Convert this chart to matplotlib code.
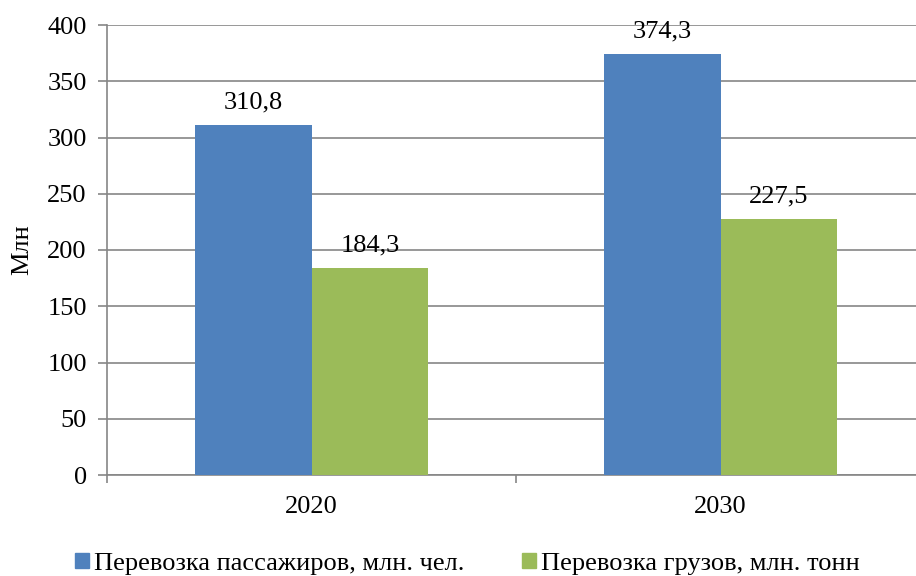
import matplotlib
matplotlib.use("Agg")
import matplotlib.pyplot as plt
import numpy as np
from matplotlib.patches import Patch

years = ["2020", "2030"]
passengers = [310.8, 374.3]
cargo = [184.3, 227.5]
series_names = ["Перевозка пассажиров, млн. чел.", "Перевозка грузов, млн. тонн"]
y_ticks = [0, 50, 100, 150, 200, 250, 300, 350, 400]

plt.rcParams["font.family"] = ["Liberation Serif", "DejaVu Serif"]
FS = 19

fig = plt.figure(figsize=(9.16, 5.76), dpi=100)
ax = fig.add_axes([107 / 916, 101 / 576, 818 / 916, 450 / 576])

x = np.arange(len(years))
w = 0.286
blue = "#4F81BD"
green = "#9BBB59"
b1 = ax.bar(x - w / 2, passengers, w, color=blue, zorder=3)
b2 = ax.bar(x + w / 2, cargo, w, color=green, zorder=3)

for bars, vals in ((b1, passengers), (b2, cargo)):
    for r, v in zip(bars, vals):
        ax.annotate(f"{v:.1f}".replace(".", ","),
                    (r.get_x() + r.get_width() / 2, v),
                    xytext=(0, 12), textcoords="offset points",
                    ha="center", va="baseline", fontsize=FS)

ax.set_xlim(-0.5, 1.5)
ax.set_ylim(0, 400)
ax.set_yticks(y_ticks)
ax.tick_params(axis="y", labelsize=FS, length=6.5, color="#868686", width=1.2, pad=8)
ax.yaxis.grid(True, color="#868686", linewidth=1.2, zorder=0)
ax.set_axisbelow(True)

ax.set_xticks(x)
ax.set_xticklabels(years, fontsize=FS)
ax.tick_params(axis="x", length=0, pad=15)
ax.set_xticks([-0.5, 0.5, 1.5], minor=True)
ax.tick_params(axis="x", which="minor", length=6, color="#868686", width=1.2)

for s in ("top", "right"):
    ax.spines[s].set_visible(False)
for s in ("left", "bottom"):
    ax.spines[s].set_color("#868686")
    ax.spines[s].set_linewidth(1.2)

fig.text(22 / 916, 1 - 250 / 576, "Млн", rotation=90, fontsize=FS,
         ha="center", va="center")

handles = [Patch(color=blue), Patch(color=green)]
fig.legend(handles, series_names, loc="center", bbox_to_anchor=(467.5 / 916, 1 - 564 / 576),
           ncol=2, frameon=False, fontsize=FS, handlelength=0.53, handleheight=0.53,
           handletextpad=0.2, columnspacing=2.17, borderpad=0)

fig.savefig("out.png", dpi=100)
